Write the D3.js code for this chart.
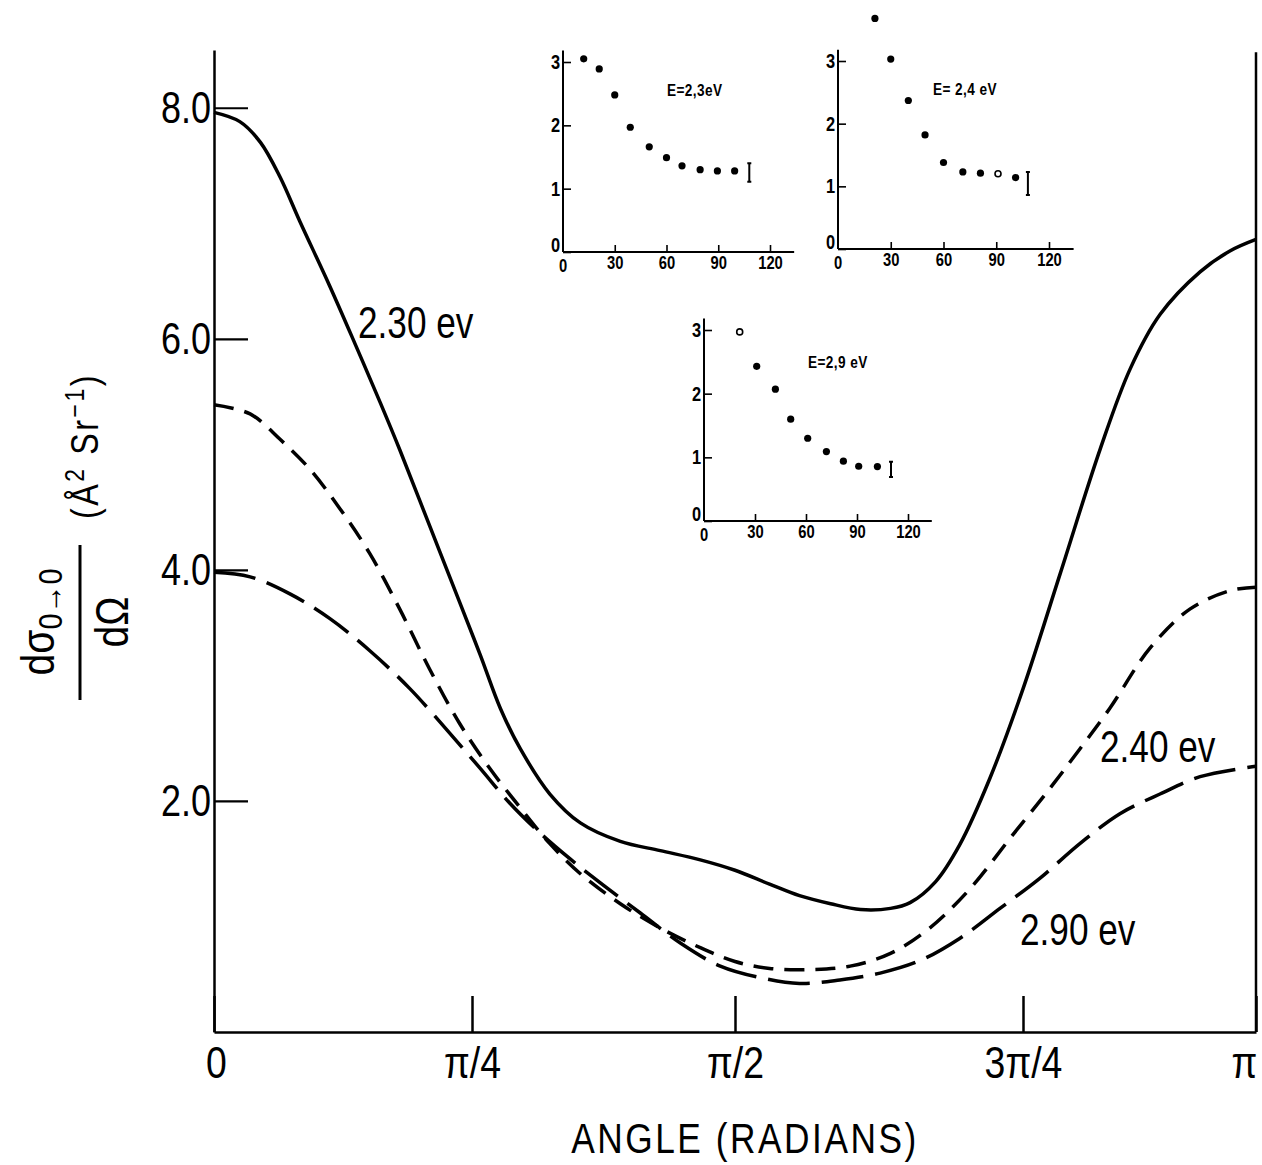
<!DOCTYPE html>
<html>
<head>
<meta charset="utf-8">
<script src="https://cdn.jsdelivr.net/npm/d3@7"></script>
<style>
  body { margin: 0; background: #fff; }
  svg { display: block; }
  text { font-family: "Liberation Sans", Arial, sans-serif; fill: #000; }
</style>
</head>
<body>
<script>
// angles are given as a fraction of pi
var xTicks = [0, 0.25, 0.5, 0.75, 1];
var xTickLabels = ['0', 'π/4', 'π/2', '3π/4', 'π'];
var yTicks = [2, 4, 6, 8];

// 2.30 eV (solid)
var t230 = [0, 0.025, 0.045, 0.064, 0.083, 0.112, 0.137, 0.161, 0.180, 0.209, 0.238, 0.258, 0.277, 0.296, 0.324, 0.353, 0.391, 0.429, 0.467, 0.5, 0.530, 0.556, 0.583, 0.609, 0.635, 0.652, 0.674, 0.695, 0.721, 0.75, 0.790, 0.833, 0.865, 0.897, 0.940, 0.972, 1];
var v230 = [7.96, 7.88, 7.70, 7.40, 7.02, 6.46, 5.95, 5.45, 5.04, 4.38, 3.72, 3.26, 2.80, 2.45, 2.06, 1.81, 1.65, 1.57, 1.49, 1.40, 1.28, 1.18, 1.11, 1.06, 1.07, 1.12, 1.30, 1.62, 2.19, 2.97, 3.97, 5.05, 5.74, 6.21, 6.58, 6.76, 6.86];
// 2.40 eV (short dashes)
var t240 = [0, 0.035, 0.064, 0.093, 0.122, 0.151, 0.180, 0.209, 0.238, 0.267, 0.296, 0.324, 0.353, 0.391, 0.429, 0.467, 0.5, 0.530, 0.565, 0.600, 0.635, 0.669, 0.704, 0.739, 0.779, 0.811, 0.843, 0.886, 0.929, 0.972, 1];
var v240 = [5.43, 5.35, 5.13, 4.87, 4.53, 4.14, 3.66, 3.14, 2.67, 2.28, 1.94, 1.63, 1.37, 1.11, 0.90, 0.73, 0.61, 0.55, 0.54, 0.57, 0.68, 0.90, 1.24, 1.68, 2.11, 2.45, 2.80, 3.32, 3.66, 3.82, 3.85];
// 2.90 eV (long dashes)
var t290 = [0, 0.035, 0.074, 0.112, 0.151, 0.190, 0.229, 0.258, 0.286, 0.315, 0.343, 0.372, 0.410, 0.448, 0.486, 0.522, 0.556, 0.591, 0.626, 0.661, 0.695, 0.730, 0.768, 0.811, 0.854, 0.897, 0.940, 1];
var v290 = [3.98, 3.94, 3.79, 3.58, 3.30, 2.97, 2.58, 2.28, 1.98, 1.72, 1.50, 1.29, 1.03, 0.77, 0.57, 0.47, 0.42, 0.45, 0.51, 0.62, 0.81, 1.07, 1.33, 1.63, 1.89, 2.06, 2.21, 2.30];

// insets: angle in degrees vs cross section
var insetXTicks = [0, 30, 60, 90, 120];
var insetYTicks = [0, 1, 2, 3];
var deg23 = [12, 21, 30, 39, 50, 60, 69, 79.5, 89.5, 99.5];
var val23 = [3.05, 2.89, 2.48, 1.97, 1.66, 1.49, 1.36, 1.30, 1.28, 1.28];
var err23 = [108, 1.11, 1.40];
var deg24 = [21, 30, 40, 49.5, 60, 71, 81, 91, 101];
var val24 = [3.68, 3.03, 2.37, 1.82, 1.38, 1.23, 1.21, 1.20, 1.14];
var open24 = [false, false, false, false, false, false, false, true, false];
var err24 = [108, 0.86, 1.23];
var deg29 = [21, 31, 42, 51, 61, 72, 82, 91, 102];
var val29 = [2.97, 2.43, 2.07, 1.60, 1.30, 1.09, 0.94, 0.86, 0.855];
var open29 = [true, false, false, false, false, false, false, false, false];
var err29 = [110, 0.69, 0.93];

var W = 1262, H = 1165;
var svg = d3.select('body').append('svg').attr('width', W).attr('height', H);

// squeeze text horizontally, the original lettering is condensed
function narrow(sel, f) {
  sel.each(function() {
    var len = this.getComputedTextLength();
    this.setAttribute('textLength', len * f);
    this.setAttribute('lengthAdjust', 'spacingAndGlyphs');
  });
}

var x = d3.scaleLinear().domain(xTicks).range([214, 472, 735, 1023, 1256]);
var y = d3.scaleLinear().domain([0, 8.5]).range([1032, 50]);

// axes
var xAxis = svg.append('g')
  .attr('transform', 'translate(0,' + y(0) + ')')
  .call(d3.axisBottom(x).tickValues(xTicks).tickSize(-36).tickSizeOuter(0).tickPadding(15)
    .tickFormat(function(d, i) { return xTickLabels[i]; }));
xAxis.attr('font-family', null);
xAxis.select('.domain').attr('stroke-width', 2.5);
xAxis.selectAll('.tick line').attr('stroke-width', 2.5);
xAxis.selectAll('.tick text').attr('font-size', 44)
  .attr('dx', function(d) { return d === 1 ? -12 : (d === 0 ? 2 : 0); });
narrow(xAxis.selectAll('.tick text'), 0.85);

var yAxis = svg.append('g')
  .attr('transform', 'translate(' + x(0) + ',0)')
  .call(d3.axisLeft(y).tickValues(yTicks).tickSize(-34).tickSizeOuter(0).tickPadding(3)
    .tickFormat(d3.format('.1f')));
yAxis.attr('font-family', null);
yAxis.select('.domain').attr('stroke-width', 2.5);
yAxis.selectAll('.tick line').attr('stroke-width', 2.2);
yAxis.selectAll('.tick text').attr('font-size', 45);
narrow(yAxis.selectAll('.tick text'), 0.8);

// right frame line
svg.append('line')
  .attr('x1', x(1)).attr('x2', x(1)).attr('y1', y(0)).attr('y2', y(8.48))
  .attr('stroke', '#000').attr('stroke-width', 2.5);

// curves
var line = d3.line().curve(d3.curveCatmullRom.alpha(0.5))
  .x(function(d) { return x(d[0]); }).y(function(d) { return y(d[1]); });
function curve(ts, vs, dash) {
  svg.append('path')
    .datum(d3.zip(ts, vs))
    .attr('d', line)
    .attr('fill', 'none').attr('stroke', '#000').attr('stroke-width', 3.5)
    .attr('stroke-dasharray', dash);
}
curve(t230, v230, null);
curve(t240, v240, '20,11');
curve(t290, v290, '42,12');

// curve labels
var curveLabels = [['2.30 ev', 358, 338], ['2.40 ev', 1100, 762], ['2.90 ev', 1020, 945]];
var cl = svg.selectAll('.clabel').data(curveLabels).enter().append('text')
  .attr('class', 'clabel')
  .attr('x', function(d) { return d[1]; }).attr('y', function(d) { return d[2]; })
  .attr('font-size', 44)
  .text(function(d) { return d[0]; });
narrow(cl, 0.8);

// axis titles
var xt = svg.append('text')
  .attr('x', 745).attr('y', 1153)
  .attr('text-anchor', 'middle').attr('font-size', 42).attr('letter-spacing', 3)
  .text('ANGLE (RADIANS)');
narrow(xt, 0.84);

var yl = svg.append('g').attr('transform', 'rotate(-90)');
var num = yl.append('text').attr('x', -622).attr('y', 54).attr('text-anchor', 'middle').attr('font-size', 46);
num.append('tspan').text('dσ');
num.append('tspan').attr('font-size', 34).attr('dy', 8).text('0');
num.append('tspan').attr('font-size', 34).attr('font-weight', 'bold').text('→');
num.append('tspan').attr('font-size', 34).text('0');
narrow(num, 0.85);
yl.append('line').attr('x1', -700).attr('x2', -545).attr('y1', 80).attr('y2', 80)
  .attr('stroke', '#000').attr('stroke-width', 3);
var den = yl.append('text').attr('x', -622).attr('y', 128).attr('text-anchor', 'middle').attr('font-size', 46).text('dΩ');
narrow(den, 0.85);
var unit = yl.append('text').attr('x', -446).attr('y', 98).attr('text-anchor', 'middle')
  .attr('font-size', 38).attr('letter-spacing', 3);
unit.append('tspan').text('(Å');
unit.append('tspan').attr('font-size', 27).attr('dy', -14).text('2');
unit.append('tspan').attr('dy', 14).text(' Sr');
unit.append('tspan').attr('font-size', 27).attr('dy', -14).text('−1');
unit.append('tspan').attr('dy', 14).text(')');
narrow(unit, 0.85);

// insets
function inset(left, bottom, w120, h3, degs, vals, opens, err, label, lx, ly) {
  var ix = d3.scaleLinear().domain([0, 120]).range([left, left + w120]);
  var iy = d3.scaleLinear().domain([0, 3]).range([bottom, bottom - h3]);
  var g = svg.append('g');
  var ax = g.append('g').attr('transform', 'translate(0,' + bottom + ')')
    .call(d3.axisBottom(ix).tickValues(insetXTicks.slice(1)).tickSize(-7).tickPadding(4).tickFormat(d3.format('d')));
  ax.attr('font-family', null);
  ax.select('.domain').attr('d', 'M' + left + ',0H' + ix(134)).attr('stroke-width', 2.2);
  ax.selectAll('.tick line').attr('stroke-width', 1.6);
  ax.selectAll('.tick text').attr('font-size', 18).attr('font-weight', 'bold');
  narrow(ax.selectAll('.tick text'), 0.82);
  // the "0" under the origin
  var z = g.append('text').attr('x', ix(0)).attr('y', bottom + 20).attr('text-anchor', 'middle')
    .attr('font-size', 18).attr('font-weight', 'bold').text('0');
  narrow(z, 0.82);
  var ay = g.append('g').attr('transform', 'translate(' + left + ',0)')
    .call(d3.axisLeft(iy).tickValues(insetYTicks).tickSize(-8).tickPadding(3).tickFormat(d3.format('d')));
  ay.attr('font-family', null);
  ay.select('.domain').attr('d', 'M0,' + bottom + 'V' + iy(3.18)).attr('stroke-width', 2);
  ay.selectAll('.tick line').attr('stroke-width', 1.6);
  ay.selectAll('.tick text').attr('font-size', 20).attr('font-weight', 'bold')
    .attr('dy', function(d) { return d === 0 ? '-0.05em' : '0.32em'; });
  narrow(ay.selectAll('.tick text'), 0.82);
  g.selectAll('circle').data(d3.zip(degs, vals, opens || degs.map(function() { return false; })))
    .enter().append('circle')
    .attr('cx', function(d) { return ix(d[0]); })
    .attr('cy', function(d) { return iy(d[1]); })
    .attr('r', function(d) { return d[2] ? 3 : 3.6; })
    .attr('fill', function(d) { return d[2] ? '#fff' : '#000'; })
    .attr('stroke', '#000').attr('stroke-width', function(d) { return d[2] ? 1.6 : 0; });
  var ex = ix(err[0]);
  g.append('path')
    .attr('d', 'M' + (ex - 2) + ',' + iy(err[1]) + 'H' + (ex + 2) + 'M' + ex + ',' + iy(err[1]) + 'V' + iy(err[2]) +
      'M' + (ex - 2) + ',' + iy(err[2]) + 'H' + (ex + 2))
    .attr('stroke', '#000').attr('stroke-width', 2).attr('fill', 'none');
  var t = g.append('text').attr('x', lx).attr('y', ly).attr('font-size', 16).attr('font-weight', 'bold')
    .attr('letter-spacing', 0.5).text(label);
  narrow(t, 0.85);
}
inset(563, 252, 207, 190, deg23, val23, null, err23, 'E=2,3eV', 667, 96);
inset(838, 249, 211, 188, deg24, val24, open24, err24, 'E= 2,4 eV', 933, 95);
inset(704, 521, 204, 191, deg29, val29, open29, err29, 'E=2,9 eV', 808, 368);
</script>
</body>
</html>
